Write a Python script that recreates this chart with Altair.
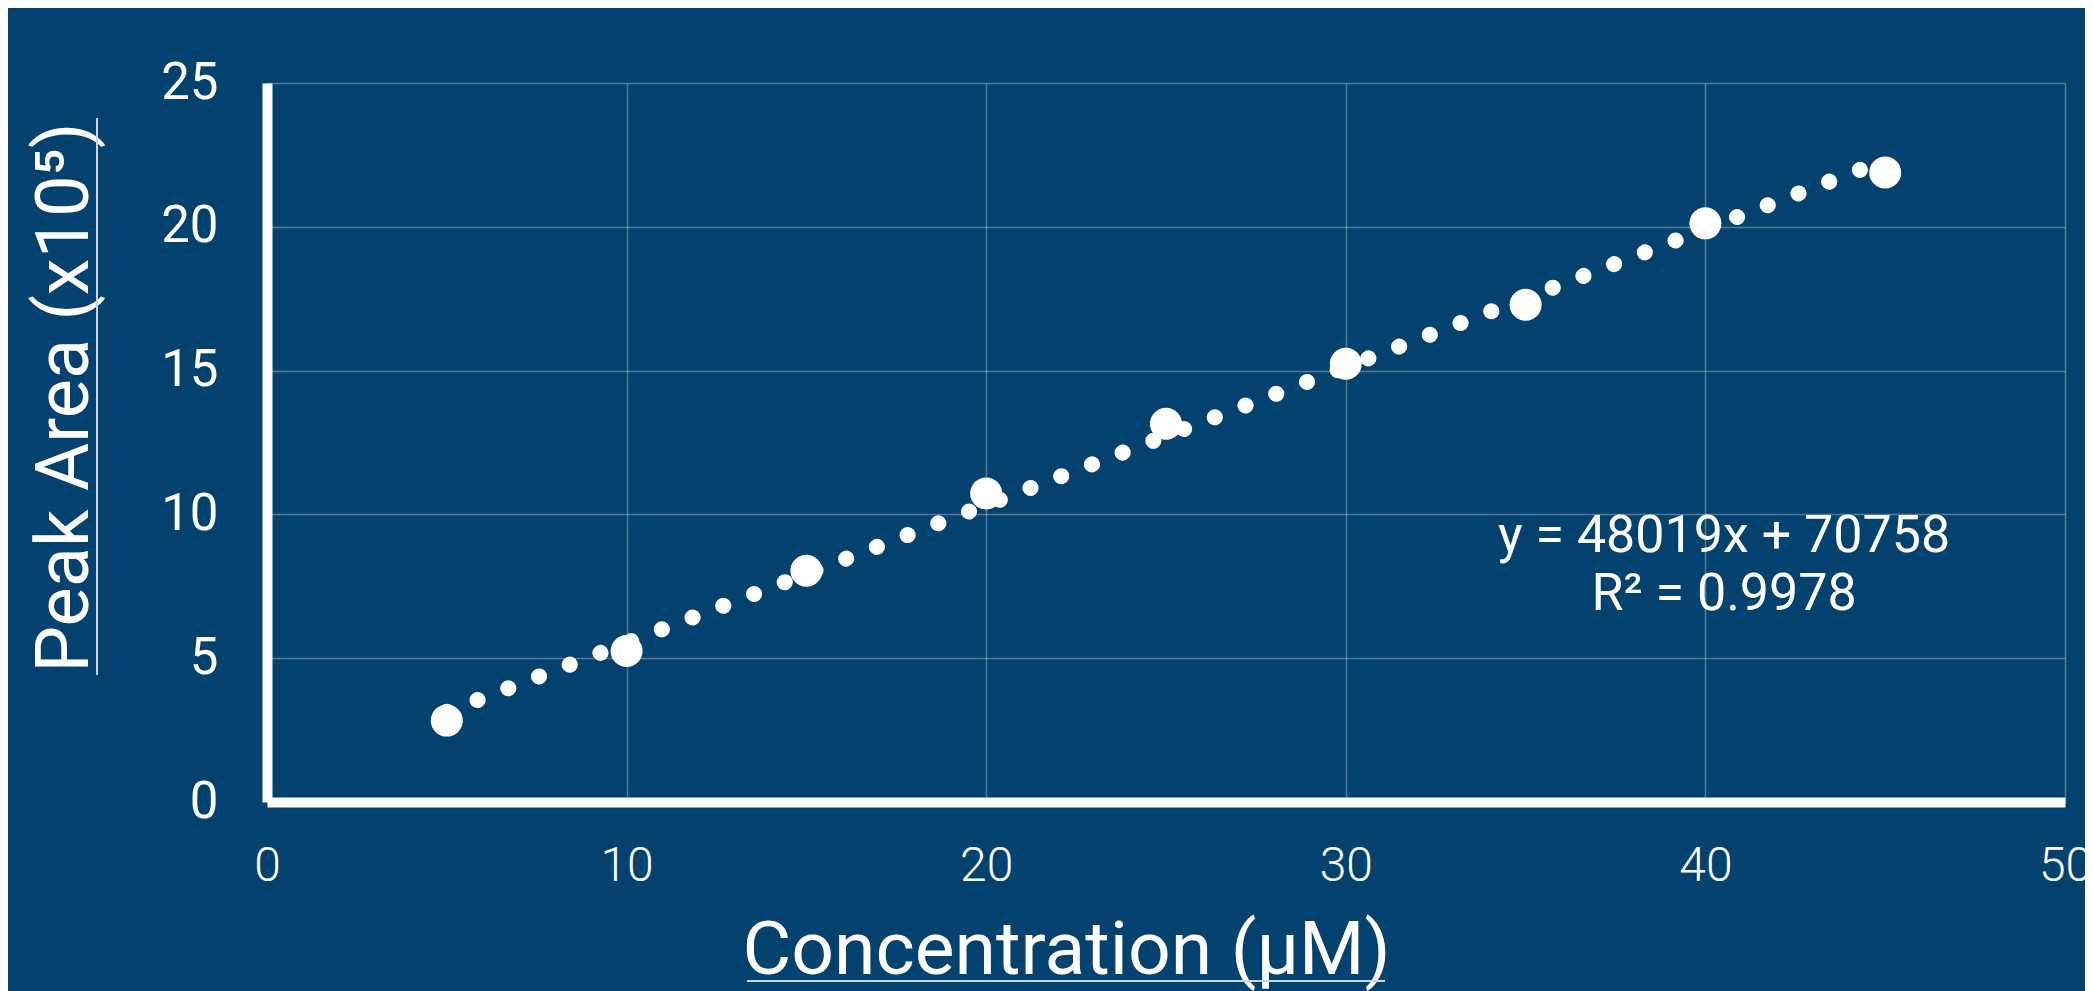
import altair as alt
import pandas as pd

# ---- data ----
conc = [5, 10, 15, 20, 25, 30, 35, 40, 45]
peak_area = [2.83, 5.25, 8.04, 10.73, 13.15, 15.24, 17.29, 20.12, 21.89]  # x10^5
x_ticks = [0, 10, 20, 30, 40, 50]
y_ticks = [0, 5, 10, 15, 20, 25]
eq_lines = ["y = 48019x + 70758", "R² = 0.9978"]
eq_x = [40.52, 40.52]
eq_y = [8.69, 6.68]

BG = "#03426E"
FONT = "Roboto"

df = pd.DataFrame({"conc": conc, "area": peak_area})
eq_df = pd.DataFrame({"x": eq_x, "y": eq_y, "t": eq_lines})
one = pd.DataFrame({"a": [0]})

x_scale = alt.Scale(domain=[0, 50], nice=False, zero=False)
y_scale = alt.Scale(domain=[0, 25], nice=False, zero=False)

x_axis = alt.Axis(
    values=x_ticks, title="Concentration (µM)",
    domainColor="white", domainWidth=10, ticks=False, tickSize=0,
    labelFont=FONT, labelFontSize=48, labelFontWeight=300, labelColor="white",
    labelPadding=40, labelFlush=False, labelOverlap=False, labelBound=False,
    grid=True, gridColor="white", gridOpacity=0.3, gridWidth=1.5,
    titleFont=FONT, titleFontSize=75, titleFontWeight=400, titleColor="white",
    titleX=799, titleY=171, titleAlign="center", titleBaseline="alphabetic",
)
y_axis = alt.Axis(
    values=y_ticks, title="Peak Area (x10⁵)",
    domainColor="white", domainWidth=10, ticks=False, tickSize=0,
    labelFont=FONT, labelFontSize=51, labelFontWeight=400, labelColor="white",
    labelPadding=49, labelOverlap=False, labelBound=False,
    grid=True, gridColor="white", gridOpacity=0.3, gridWidth=1.5,
    titleFont=FONT, titleFontSize=74, titleFontWeight=400, titleColor="white",
    titleAngle=270, titleX=-180, titleY=314, titleAlign="center",
    titleBaseline="alphabetic",
)

base = alt.Chart(df)

trend = base.mark_line(
    color="white", strokeWidth=16, strokeCap="round", strokeDash=[0.1, 32.8]
).transform_regression("conc", "area").encode(
    x=alt.X("conc:Q", scale=x_scale, axis=x_axis),
    y=alt.Y("area:Q", scale=y_scale, axis=y_axis),
)

points = base.mark_circle(size=1024, color="white", opacity=1).encode(
    x=alt.X("conc:Q", scale=x_scale),
    y=alt.Y("area:Q", scale=y_scale),
)

eq = alt.Chart(eq_df).mark_text(
    font=FONT, fontSize=52, color="white", align="center", baseline="alphabetic"
).encode(
    x=alt.X("x:Q", scale=x_scale),
    y=alt.Y("y:Q", scale=y_scale),
    text="t:N",
)

x_underline = alt.Chart(one).mark_rule(color="#c8d3de", strokeWidth=2).encode(
    x=alt.value(480), x2=alt.value(1118), y=alt.value(898)
)
y_underline = alt.Chart(one).mark_rule(color="#c8d3de", strokeWidth=2).encode(
    x=alt.value(-170), y=alt.value(35), y2=alt.value(592)
)

chart = alt.layer(trend, points, eq, x_underline, y_underline).properties(
    width=1798, height=719,
    autosize=alt.AutoSizeParams(type="none"),
    padding={"left": 259, "top": 75, "right": 20, "bottom": 190},
).configure(background=BG).configure_view(strokeWidth=0)

chart.save("out.html", embed_options={"renderer": "svg", "actions": False})
